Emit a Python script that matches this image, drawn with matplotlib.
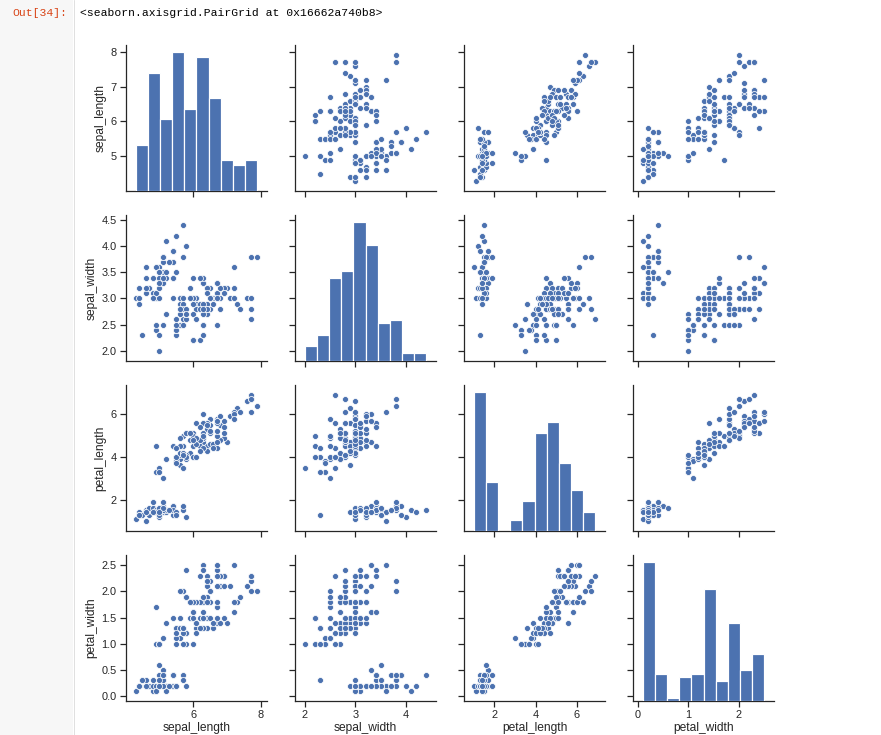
import matplotlib
matplotlib.use("Agg")
import matplotlib.pyplot as plt
import seaborn as sns
from matplotlib.patches import Rectangle
from matplotlib.lines import Line2D

# ---- iris data (150 observations) ----
sepal_length = [
    5.1, 4.9, 4.7, 4.6, 5.0, 5.4, 4.6, 5.0, 4.4, 4.9, 5.4, 4.8, 4.8, 4.3, 5.8, 5.7, 5.4, 5.1, 5.7, 5.1,
    5.4, 5.1, 4.6, 5.1, 4.8, 5.0, 5.0, 5.2, 5.2, 4.7, 4.8, 5.4, 5.2, 5.5, 4.9, 5.0, 5.5, 4.9, 4.4, 5.1,
    5.0, 4.5, 4.4, 5.0, 5.1, 4.8, 5.1, 4.6, 5.3, 5.0,
    7.0, 6.4, 6.9, 5.5, 6.5, 5.7, 6.3, 4.9, 6.6, 5.2, 5.0, 5.9, 6.0, 6.1, 5.6, 6.7, 5.6, 5.8, 6.2, 5.6,
    5.9, 6.1, 6.3, 6.1, 6.4, 6.6, 6.8, 6.7, 6.0, 5.7, 5.5, 5.5, 5.8, 6.0, 5.4, 6.0, 6.7, 6.3, 5.6, 5.5,
    5.5, 6.1, 5.8, 5.0, 5.6, 5.7, 5.7, 6.2, 5.1, 5.7,
    6.3, 5.8, 7.1, 6.3, 6.5, 7.6, 4.9, 7.3, 6.7, 7.2, 6.5, 6.4, 6.8, 5.7, 5.8, 6.4, 6.5, 7.7, 7.7, 6.0,
    6.9, 5.6, 7.7, 6.3, 6.7, 7.2, 6.2, 6.1, 6.4, 7.2, 7.4, 7.9, 6.4, 6.3, 6.1, 7.7, 6.3, 6.4, 6.0, 6.9,
    6.7, 6.9, 5.8, 6.8, 6.7, 6.7, 6.3, 6.5, 6.2, 5.9,
]
sepal_width = [
    3.5, 3.0, 3.2, 3.1, 3.6, 3.9, 3.4, 3.4, 2.9, 3.1, 3.7, 3.4, 3.0, 3.0, 4.0, 4.4, 3.9, 3.5, 3.8, 3.8,
    3.4, 3.7, 3.6, 3.3, 3.4, 3.0, 3.4, 3.5, 3.4, 3.2, 3.1, 3.4, 4.1, 4.2, 3.1, 3.2, 3.5, 3.6, 3.0, 3.4,
    3.5, 2.3, 3.2, 3.5, 3.8, 3.0, 3.8, 3.2, 3.7, 3.3,
    3.2, 3.2, 3.1, 2.3, 2.8, 2.8, 3.3, 2.4, 2.9, 2.7, 2.0, 3.0, 2.2, 2.9, 2.9, 3.1, 3.0, 2.7, 2.2, 2.5,
    3.2, 2.8, 2.5, 2.8, 2.9, 3.0, 2.8, 3.0, 2.9, 2.6, 2.4, 2.4, 2.7, 2.7, 3.0, 3.4, 3.1, 2.3, 3.0, 2.5,
    2.6, 3.0, 2.6, 2.3, 2.7, 3.0, 2.9, 2.9, 2.5, 2.8,
    3.3, 2.7, 3.0, 2.9, 3.0, 3.0, 2.5, 2.9, 2.5, 3.6, 3.2, 2.7, 3.0, 2.5, 2.8, 3.2, 3.0, 3.8, 2.6, 2.2,
    3.2, 2.8, 2.8, 2.7, 3.3, 3.2, 2.8, 3.0, 2.8, 3.0, 2.8, 3.8, 2.8, 2.8, 2.6, 3.0, 3.4, 3.1, 3.0, 3.1,
    3.1, 3.1, 2.7, 3.2, 3.3, 3.0, 2.5, 3.0, 3.4, 3.0,
]
petal_length = [
    1.4, 1.4, 1.3, 1.5, 1.4, 1.7, 1.4, 1.5, 1.4, 1.5, 1.5, 1.6, 1.4, 1.1, 1.2, 1.5, 1.3, 1.4, 1.7, 1.5,
    1.7, 1.5, 1.0, 1.7, 1.9, 1.6, 1.6, 1.5, 1.4, 1.6, 1.6, 1.5, 1.5, 1.4, 1.5, 1.2, 1.3, 1.4, 1.3, 1.5,
    1.3, 1.3, 1.3, 1.6, 1.9, 1.4, 1.6, 1.4, 1.5, 1.4,
    4.7, 4.5, 4.9, 4.0, 4.6, 4.5, 4.7, 3.3, 4.6, 3.9, 3.5, 4.2, 4.0, 4.7, 3.6, 4.4, 4.5, 4.1, 4.5, 3.9,
    4.8, 4.0, 4.9, 4.7, 4.3, 4.4, 4.8, 5.0, 4.5, 3.5, 3.8, 3.7, 3.9, 5.1, 4.5, 4.5, 4.7, 4.4, 4.1, 4.0,
    4.4, 4.6, 4.0, 3.3, 4.2, 4.2, 4.2, 4.3, 3.0, 4.1,
    6.0, 5.1, 5.9, 5.6, 5.8, 6.6, 4.5, 6.3, 5.8, 6.1, 5.1, 5.3, 5.5, 5.0, 5.1, 5.3, 5.5, 6.7, 6.9, 5.0,
    5.7, 4.9, 6.7, 4.9, 5.7, 6.0, 4.8, 4.9, 5.6, 5.8, 6.1, 6.4, 5.6, 5.1, 5.6, 6.1, 5.6, 5.5, 4.8, 5.4,
    5.6, 5.1, 5.1, 5.9, 5.7, 5.2, 5.0, 5.2, 5.4, 5.1,
]
petal_width = [
    0.2, 0.2, 0.2, 0.2, 0.2, 0.4, 0.3, 0.2, 0.2, 0.1, 0.2, 0.2, 0.1, 0.1, 0.2, 0.4, 0.4, 0.3, 0.3, 0.3,
    0.2, 0.4, 0.2, 0.5, 0.2, 0.2, 0.4, 0.2, 0.2, 0.2, 0.2, 0.4, 0.1, 0.2, 0.2, 0.2, 0.2, 0.1, 0.2, 0.2,
    0.3, 0.3, 0.2, 0.6, 0.4, 0.3, 0.2, 0.2, 0.2, 0.2,
    1.4, 1.5, 1.5, 1.3, 1.5, 1.3, 1.6, 1.0, 1.3, 1.4, 1.0, 1.5, 1.0, 1.4, 1.3, 1.4, 1.5, 1.0, 1.5, 1.1,
    1.8, 1.3, 1.5, 1.2, 1.3, 1.4, 1.4, 1.7, 1.5, 1.0, 1.1, 1.0, 1.2, 1.6, 1.5, 1.6, 1.5, 1.3, 1.3, 1.3,
    1.2, 1.4, 1.2, 1.0, 1.3, 1.2, 1.3, 1.3, 1.1, 1.3,
    2.5, 1.9, 2.1, 1.8, 2.2, 2.1, 1.7, 1.8, 1.8, 2.5, 2.0, 1.9, 2.1, 2.0, 2.4, 2.3, 1.8, 2.2, 2.3, 1.5,
    2.3, 2.0, 2.0, 1.8, 2.1, 1.8, 1.8, 1.8, 2.1, 1.6, 1.9, 2.0, 2.2, 1.5, 1.4, 2.3, 2.4, 1.8, 1.8, 2.1,
    2.4, 2.3, 1.9, 2.3, 2.5, 2.3, 1.9, 2.0, 2.3, 1.8,
]

variables = ["sepal_length", "sepal_width", "petal_length", "petal_width"]
columns = [sepal_length, sepal_width, petal_length, petal_width]

tick_values = [
    [5, 6, 7, 8],
    [2.0, 2.5, 3.0, 3.5, 4.0, 4.5],
    [2, 4, 6],
    [0.0, 0.5, 1.0, 1.5, 2.0, 2.5],
]
ytick_labels = [
    ["5", "6", "7", "8"],
    ["2.0", "2.5", "3.0", "3.5", "4.0", "4.5"],
    ["2", "4", "6"],
    ["0.0", "0.5", "1.0", "1.5", "2.0", "2.5"],
]
xtick_values = [[4, 6, 8], [2, 3, 4], [2, 4, 6], [0, 1, 2]]
xtick_labels = [["4", "6", "8"], ["2", "3", "4"], ["2", "4", "6"], ["0", "1", "2"]]

out_prompt = "Out[34]:"
out_text = "<seaborn.axisgrid.PairGrid at 0x16662a740b8>"

# ---- style ----
sns.set_theme(style="ticks", context="notebook")
plt.rcParams["font.family"] = ["Liberation Sans", "DejaVu Sans"]
BLUE = "#4C72B0"

W, H, DPI = 881, 735, 72
fig = plt.figure(figsize=(W / DPI, H / DPI), dpi=DPI)
fig.patch.set_facecolor("white")

# notebook gutter
fig.patches.append(Rectangle((0, 0), 73 / W, 1, transform=fig.transFigure,
                             facecolor="#f7f7f7", edgecolor="none", zorder=0))
fig.lines.append(Line2D([73.5 / W, 73.5 / W], [0, 1], transform=fig.transFigure,
                        color="#e0e0e0", linewidth=1, zorder=1))
fig.text(12 / W, 1 - 13 / H, out_prompt, family=["Liberation Mono", "DejaVu Sans Mono"],
         fontsize=11.4, color="#D84315", ha="left", va="center")
fig.text(80 / W, 1 - 13 / H, out_text, family=["Liberation Mono", "DejaVu Sans Mono"],
         fontsize=11.4, color="black", ha="left", va="center")

lefts = [126, 295, 464, 633]
tops = [45, 215, 385, 555]
aw, ah = 141, 146

n = len(variables)
axes = [[None] * n for _ in range(n)]
for i in range(n):
    for j in range(n):
        kw = {}
        if i > 0:
            kw["sharex"] = axes[0][j]
        if j > 0:
            kw["sharey"] = axes[i][0]
        ax = fig.add_axes([lefts[j] / W, (H - tops[i] - ah) / H, aw / W, ah / H], **kw)
        axes[i][j] = ax

def lims(vals):
    lo, hi = min(vals), max(vals)
    r = hi - lo
    return lo - 0.08 * r, hi + 0.08 * r

for i in range(n):
    for j in range(n):
        ax = axes[i][j]
        if i != j:
            ax.scatter(columns[j], columns[i], s=36, color=BLUE,
                       edgecolor="white", linewidth=0.75, zorder=3)
        else:
            tax = ax.twinx()
            tax.hist(columns[i], bins=10, color=BLUE, edgecolor="white", linewidth=1.2)
            tax.set_axis_off()
        ax.spines["top"].set_visible(False)
        ax.spines["right"].set_visible(False)
        ax.tick_params(colors=".15", labelcolor=".15", labelsize=11)
        if j != 0:
            ax.tick_params(labelleft=False)
        if i != n - 1:
            ax.tick_params(labelbottom=False)

for k in range(n):
    lo, hi = lims(columns[k])
    axes[k][0].set_yticks(tick_values[k], ytick_labels[k])
    axes[n - 1][k].set_xticks(xtick_values[k], xtick_labels[k])
    axes[0][k].set_xlim(lo, hi)
    axes[k][0].set_ylim(lo, hi)
    axes[k][0].set_ylabel(variables[k], fontsize=12, color=".15")
    axes[n - 1][k].set_xlabel(variables[k], fontsize=12, color=".15", labelpad=1.5)

fig.savefig("out.png", dpi=DPI, facecolor="white")
